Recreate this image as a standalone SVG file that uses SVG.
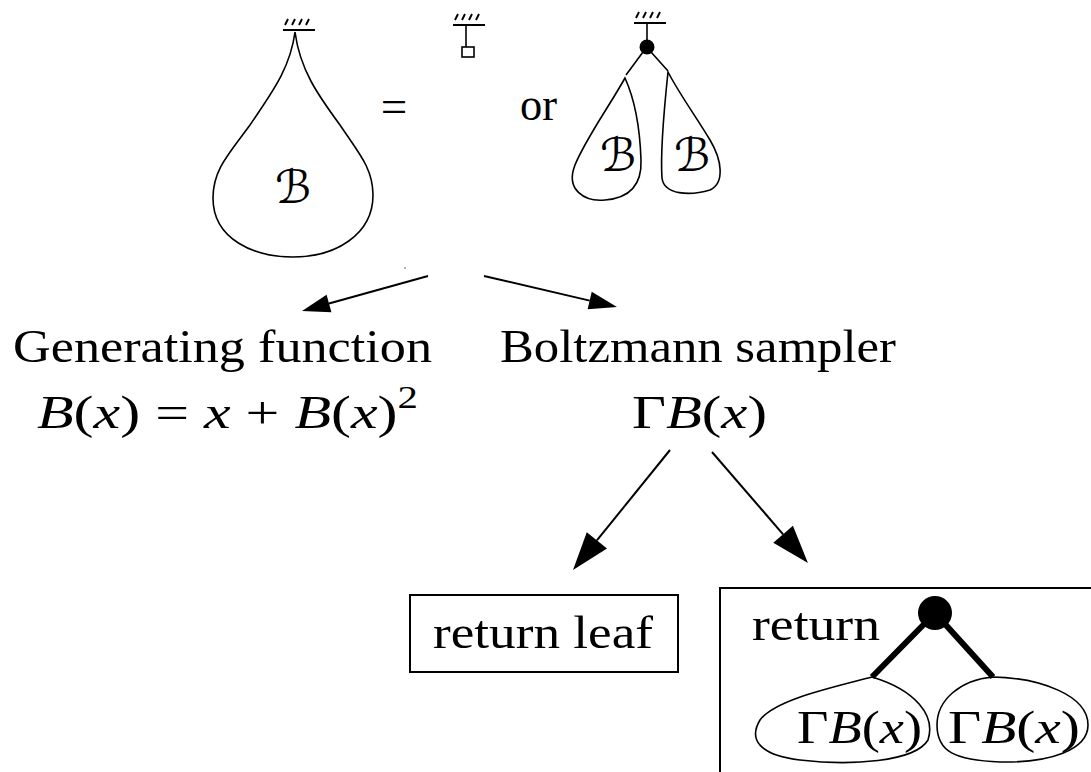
<svg xmlns="http://www.w3.org/2000/svg" width="1091" height="772" viewBox="0 0 1091 772">
<style>
  .ln { fill: none; stroke: #000; stroke-width: 1.6; }
  .thin { fill: none; stroke: #000; stroke-width: 1.6; }
  .hat { fill: none; stroke: #000; stroke-width: 1.9; }
  .tx { font-family: "Liberation Serif", Tinos, "Times New Roman", "DejaVu Serif", "Noto Serif", serif; font-size: 47px; fill: #000; }
  .it { font-style: italic; }
  .scr { font-family: "DejaVu Serif", "DejaVu Sans", serif; font-style: italic; fill: #000; }
  .arrow { fill: none; stroke: #000; stroke-width: 2; }
  .thick { fill: none; stroke: #000; stroke-width: 6; }
</style>
<defs>
  <marker id="ahs" viewBox="0 -10 30 20" markerWidth="30" markerHeight="20" refX="0" refY="0" markerUnits="userSpaceOnUse" orient="auto" overflow="visible">
    <path d="M0,-9 L28,0 L0,9 Z" fill="#000"/>
  </marker>
  <marker id="ahl" viewBox="0 -14 40 28" markerWidth="40" markerHeight="28" refX="0" refY="0" markerUnits="userSpaceOnUse" orient="auto" overflow="visible">
    <path d="M0,-13 L38,0 L0,13 Z" fill="#000"/>
  </marker>
  <g id="hatch">
    <path class="hat" d="M-14,0 H18 M-12,-5 L-9,-11 M-5,-5 L-2,-11 M2,-5 L5,-11 M9,-5 L12,-11"/>
  </g>
</defs>

<g id="drop-B">
  <use href="#hatch" x="297" y="30"/>
  <path class="ln" d="M295,32 C290,70 270,95 250,125 C228,155 213,170 213,198 C213,240 255,257 293,257 C335,257 373,235 373,195 C373,168 358,152 340,125 C318,95 300,70 295,32 Z"/>
  <text class="scr" x="293" y="203" font-size="46" text-anchor="middle">ℬ</text>
</g>

<g id="equals">
  <text class="tx" x="394" y="122" text-anchor="middle" font-size="40">=</text>
</g>

<g id="leaf">
  <use href="#hatch" x="467" y="25"/>
  <path class="thin" d="M466,25 V47"/>
  <rect x="462" y="47" width="12" height="10" class="thin"/>
</g>

<g id="or">
  <text class="tx" x="520" y="120" textLength="37" lengthAdjust="spacingAndGlyphs">or</text>
</g>

<g id="node-pair">
  <use href="#hatch" x="648" y="23"/>
  <path class="thin" d="M647,23 V40"/>
  <circle cx="647" cy="47" r="7.5" fill="#000"/>
  <path class="thin" d="M643,52 L626,75 M651,52 L668,71"/>
  <path class="ln" d="M625,78 C610,105 585,140 575,165 C565,190 585,202 605,200 C630,198 642,185 641,160 C640,130 635,100 625,78 Z"/>
  <path class="ln" d="M668,72 C664,110 660,150 662,178 C664,195 690,196 710,190 C725,183 722,160 710,140 C695,115 680,95 668,72 Z"/>
  <text class="scr" x="618" y="171" font-size="46" text-anchor="middle">ℬ</text>
  <text class="scr" x="692" y="171" font-size="46" text-anchor="middle">ℬ</text>
</g>

<circle cx="405" cy="268" r="0.8" fill="#555"/>

<g id="genfun">
  <text class="tx" x="13" y="362" textLength="419" lengthAdjust="spacingAndGlyphs">Generating function</text>
  <text class="tx" x="37" y="428" textLength="381" lengthAdjust="spacingAndGlyphs"><tspan class="it">B</tspan>(<tspan class="it">x</tspan>) = <tspan class="it">x</tspan> + <tspan class="it">B</tspan>(<tspan class="it">x</tspan>)<tspan font-size="32" dy="-20">2</tspan></text>
</g>

<g id="sampler">
  <text class="tx" x="500" y="362" textLength="396" lengthAdjust="spacingAndGlyphs">Boltzmann sampler</text>
  <text class="tx" x="632" y="428" textLength="135" lengthAdjust="spacingAndGlyphs">Γ<tspan class="it">B</tspan>(<tspan class="it">x</tspan>)</text>
</g>

<g id="connectors">
  <path class="arrow" d="M428,276 L329,303.5" marker-end="url(#ahs)"/>
  <path class="arrow" d="M484,276 L589.7,300.6" marker-end="url(#ahs)"/>
  <path class="arrow" d="M670,450 L596.9,540.4" marker-end="url(#ahl)"/>
  <path class="arrow" d="M712,452 L783.1,534.3" marker-end="url(#ahl)"/>
</g>

<g id="box-leaf">
  <rect x="410" y="595" width="268" height="77" fill="none" stroke="#000" stroke-width="2"/>
  <text class="tx" x="433" y="648" textLength="220" lengthAdjust="spacingAndGlyphs">return leaf</text>
</g>

<g id="box-node">
  <rect x="720" y="588" width="400" height="220" fill="none" stroke="#000" stroke-width="2"/>
  <text class="tx" x="752" y="640" textLength="128" lengthAdjust="spacingAndGlyphs">return</text>
  <path class="thick" d="M935,613 L872,677 M935,613 L993,677"/>
  <circle cx="935" cy="613" r="17" fill="#000"/>
  <path class="ln" d="M872,677 C830,688 775,700 760,720 C748,740 760,755 800,760 C850,766 915,762 928,740 C936,715 915,690 872,677 Z"/>
  <path class="ln" d="M993,677 C960,680 937,700 937,725 C937,752 955,760 1000,762 C1050,763 1088,750 1088,725 C1088,695 1040,678 993,677 Z"/>
  <text class="tx" x="797" y="743" textLength="125" lengthAdjust="spacingAndGlyphs">Γ<tspan class="it">B</tspan>(<tspan class="it">x</tspan>)</text>
  <text class="tx" x="948" y="743" textLength="132" lengthAdjust="spacingAndGlyphs">Γ<tspan class="it">B</tspan>(<tspan class="it">x</tspan>)</text>
</g>
</svg>
